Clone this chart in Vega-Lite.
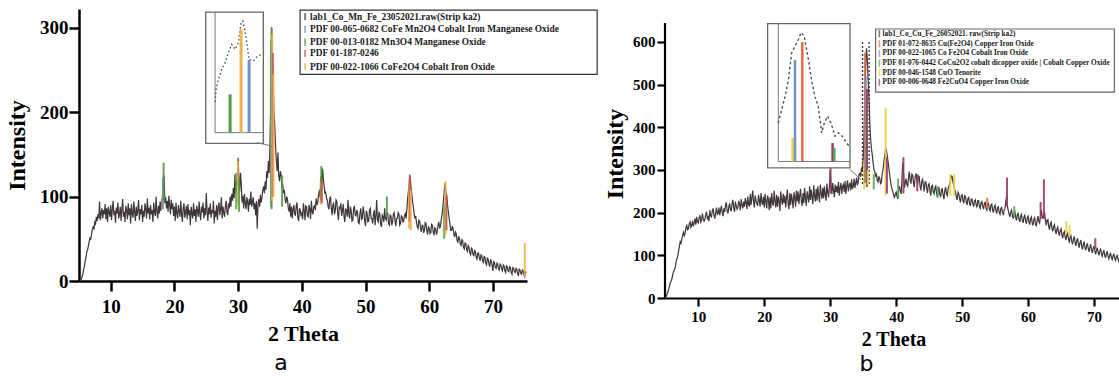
{
  "$schema": "https://vega.github.io/schema/vega-lite/v6.json",
  "background": "white",
  "padding": {"left": 5, "top": 9, "right": 0, "bottom": 0},
  "spacing": 5,
  "resolve": {"scale": {"color": "independent"}},
  "config": {
    "view": {"stroke": null},
    "axis": {
      "grid": false,
      "domainColor": "#000",
      "tickColor": "#000",
      "labelColor": "#000",
      "titleColor": "#000",
      "labelFont": "Liberation Serif",
      "titleFont": "Liberation Serif",
      "labelFontWeight": "bold",
      "titleFontWeight": "bold"
    }
  },
  "datasets": {
    "scanA": [
      {"t":5.25,"i":0},{"t":5.375,"i":2},{"t":5.5,"i":5},{"t":5.625,"i":8},{"t":5.75,"i":14},{"t":5.875,"i":18},
      {"t":6.0,"i":24},{"t":6.125,"i":28},{"t":6.25,"i":35},{"t":6.375,"i":37},{"t":6.5,"i":42},{"t":6.625,"i":47},{"t":6.75,"i":51},{"t":6.875,"i":50},
      {"t":7.0,"i":56},{"t":7.125,"i":61},{"t":7.25,"i":64},{"t":7.375,"i":62},{"t":7.5,"i":70},{"t":7.625,"i":68},{"t":7.75,"i":76},{"t":7.875,"i":71},
      {"t":8.0,"i":79},{"t":8.125,"i":74},{"t":8.25,"i":94},{"t":8.375,"i":72},{"t":8.5,"i":80},{"t":8.625,"i":86},{"t":8.75,"i":74},{"t":8.875,"i":84},
      {"t":9.0,"i":79},{"t":9.125,"i":91},{"t":9.25,"i":73},{"t":9.375,"i":86},{"t":9.5,"i":70},{"t":9.625,"i":88},{"t":9.75,"i":81},{"t":9.875,"i":76},
      {"t":10.0,"i":90},{"t":10.125,"i":72},{"t":10.25,"i":84},{"t":10.375,"i":95},{"t":10.5,"i":78},{"t":10.625,"i":83},{"t":10.75,"i":69},{"t":10.875,"i":87},
      {"t":11.0,"i":80},{"t":11.125,"i":93},{"t":11.25,"i":74},{"t":11.375,"i":79},{"t":11.5,"i":88},{"t":11.625,"i":71},{"t":11.75,"i":85},{"t":11.875,"i":97},
      {"t":12.0,"i":76},{"t":12.125,"i":82},{"t":12.25,"i":70},{"t":12.375,"i":89},{"t":12.5,"i":84},{"t":12.625,"i":73},{"t":12.75,"i":92},{"t":12.875,"i":78},
      {"t":13.0,"i":86},{"t":13.125,"i":68},{"t":13.25,"i":91},{"t":13.375,"i":80},{"t":13.5,"i":75},{"t":13.625,"i":94},{"t":13.75,"i":82},{"t":13.875,"i":71},
      {"t":14.0,"i":88},{"t":14.125,"i":77},{"t":14.25,"i":84},{"t":14.375,"i":96},{"t":14.5,"i":72},{"t":14.625,"i":85},{"t":14.75,"i":79},{"t":14.875,"i":90},
      {"t":15.0,"i":70},{"t":15.125,"i":83},{"t":15.25,"i":76},{"t":15.375,"i":92},{"t":15.5,"i":85},{"t":15.625,"i":74},{"t":15.75,"i":98},{"t":15.875,"i":80},
      {"t":16.0,"i":87},{"t":16.125,"i":73},{"t":16.25,"i":90},{"t":16.375,"i":79},{"t":16.5,"i":84},{"t":16.625,"i":70},{"t":16.75,"i":93},{"t":16.875,"i":81},
      {"t":17.0,"i":77},{"t":17.125,"i":100},{"t":17.25,"i":82},{"t":17.375,"i":74},{"t":17.5,"i":89},{"t":17.625,"i":80},{"t":17.75,"i":94},{"t":17.875,"i":83},
      {"t":18.0,"i":97},{"t":18.125,"i":88},{"t":18.25,"i":118},{"t":18.375,"i":125},{"t":18.5,"i":92},{"t":18.625,"i":99},{"t":18.75,"i":86},{"t":18.875,"i":95},
      {"t":19.0,"i":82},{"t":19.125,"i":101},{"t":19.25,"i":90},{"t":19.375,"i":79},{"t":19.5,"i":96},{"t":19.625,"i":85},{"t":19.75,"i":92},{"t":19.875,"i":77},
      {"t":20.0,"i":88},{"t":20.125,"i":71},{"t":20.25,"i":93},{"t":20.375,"i":80},{"t":20.5,"i":74},{"t":20.625,"i":90},{"t":20.75,"i":83},{"t":20.875,"i":76},
      {"t":21.0,"i":95},{"t":21.125,"i":79},{"t":21.25,"i":70},{"t":21.375,"i":86},{"t":21.5,"i":92},{"t":21.625,"i":75},{"t":21.75,"i":81},{"t":21.875,"i":89},
      {"t":22.0,"i":73},{"t":22.125,"i":91},{"t":22.25,"i":78},{"t":22.375,"i":84},{"t":22.5,"i":66},{"t":22.625,"i":88},{"t":22.75,"i":80},{"t":22.875,"i":74},
      {"t":23.0,"i":92},{"t":23.125,"i":77},{"t":23.25,"i":85},{"t":23.375,"i":70},{"t":23.5,"i":89},{"t":23.625,"i":83},{"t":23.75,"i":76},{"t":23.875,"i":94},
      {"t":24.0,"i":79},{"t":24.125,"i":72},{"t":24.25,"i":88},{"t":24.375,"i":81},{"t":24.5,"i":93},{"t":24.625,"i":74},{"t":24.75,"i":86},{"t":24.875,"i":78},
      {"t":25.0,"i":104},{"t":25.125,"i":82},{"t":25.25,"i":71},{"t":25.375,"i":87},{"t":25.5,"i":79},{"t":25.625,"i":92},{"t":25.75,"i":75},{"t":25.875,"i":84},
      {"t":26.0,"i":80},{"t":26.125,"i":95},{"t":26.25,"i":68},{"t":26.375,"i":83},{"t":26.5,"i":76},{"t":26.625,"i":90},{"t":26.75,"i":72},{"t":26.875,"i":87},
      {"t":27.0,"i":93},{"t":27.125,"i":78},{"t":27.25,"i":85},{"t":27.375,"i":99},{"t":27.5,"i":74},{"t":27.625,"i":88},{"t":27.75,"i":81},{"t":27.875,"i":76},
      {"t":28.0,"i":89},{"t":28.125,"i":95},{"t":28.25,"i":82},{"t":28.375,"i":78},{"t":28.5,"i":92},{"t":28.625,"i":86},{"t":28.75,"i":100},{"t":28.875,"i":88},
      {"t":29.0,"i":103},{"t":29.125,"i":95},{"t":29.25,"i":110},{"t":29.375,"i":98},{"t":29.5,"i":126},{"t":29.625,"i":104},{"t":29.75,"i":118},{"t":29.875,"i":112},
      {"t":30.0,"i":146},{"t":30.125,"i":120},{"t":30.25,"i":106},{"t":30.375,"i":128},{"t":30.5,"i":115},{"t":30.625,"i":93},{"t":30.75,"i":101},{"t":30.875,"i":86},
      {"t":31.0,"i":103},{"t":31.125,"i":92},{"t":31.25,"i":85},{"t":31.375,"i":99},{"t":31.5,"i":94},{"t":31.625,"i":82},{"t":31.75,"i":97},{"t":31.875,"i":90},
      {"t":32.0,"i":106},{"t":32.125,"i":88},{"t":32.25,"i":94},{"t":32.375,"i":99},{"t":32.5,"i":85},{"t":32.625,"i":92},{"t":32.75,"i":78},{"t":32.875,"i":95},
      {"t":33.0,"i":62},{"t":33.125,"i":90},{"t":33.25,"i":97},{"t":33.375,"i":88},{"t":33.5,"i":102},{"t":33.625,"i":93},{"t":33.75,"i":99},{"t":33.875,"i":108},
      {"t":34.0,"i":112},{"t":34.125,"i":104},{"t":34.25,"i":118},{"t":34.375,"i":108},{"t":34.5,"i":130},{"t":34.625,"i":122},{"t":34.75,"i":142},{"t":34.875,"i":128},
      {"t":35.0,"i":162},{"t":35.125,"i":210},{"t":35.25,"i":300},{"t":35.375,"i":268},{"t":35.5,"i":236},{"t":35.625,"i":200},{"t":35.75,"i":184},{"t":35.875,"i":160},
      {"t":36.0,"i":142},{"t":36.125,"i":130},{"t":36.25,"i":152},{"t":36.375,"i":124},{"t":36.5,"i":118},{"t":36.625,"i":130},{"t":36.75,"i":126},{"t":36.875,"i":112},
      {"t":37.0,"i":114},{"t":37.125,"i":104},{"t":37.25,"i":108},{"t":37.375,"i":96},{"t":37.5,"i":92},{"t":37.625,"i":100},{"t":37.75,"i":97},{"t":37.875,"i":86},
      {"t":38.0,"i":82},{"t":38.125,"i":92},{"t":38.25,"i":76},{"t":38.375,"i":88},{"t":38.5,"i":74},{"t":38.625,"i":85},{"t":38.75,"i":90},{"t":38.875,"i":79},
      {"t":39.0,"i":78},{"t":39.125,"i":89},{"t":39.25,"i":93},{"t":39.375,"i":75},{"t":39.5,"i":71},{"t":39.625,"i":86},{"t":39.75,"i":84},{"t":39.875,"i":78},
      {"t":40.0,"i":80},{"t":40.125,"i":73},{"t":40.25,"i":92},{"t":40.375,"i":84},{"t":40.5,"i":72},{"t":40.625,"i":89},{"t":40.75,"i":88},{"t":40.875,"i":77},
      {"t":41.0,"i":76},{"t":41.125,"i":90},{"t":41.25,"i":85},{"t":41.375,"i":73},{"t":41.5,"i":95},{"t":41.625,"i":82},{"t":41.75,"i":79},{"t":41.875,"i":88},
      {"t":42.0,"i":89},{"t":42.125,"i":84},{"t":42.25,"i":98},{"t":42.375,"i":90},{"t":42.5,"i":93},{"t":42.625,"i":101},{"t":42.75,"i":108},{"t":42.875,"i":99},
      {"t":43.0,"i":124},{"t":43.125,"i":115},{"t":43.25,"i":133},{"t":43.375,"i":122},{"t":43.5,"i":112},{"t":43.625,"i":104},{"t":43.75,"i":105},{"t":43.875,"i":98},
      {"t":44.0,"i":96},{"t":44.125,"i":88},{"t":44.25,"i":85},{"t":44.375,"i":97},{"t":44.5,"i":100},{"t":44.625,"i":86},{"t":44.75,"i":78},{"t":44.875,"i":90},
      {"t":45.0,"i":92},{"t":45.125,"i":79},{"t":45.25,"i":83},{"t":45.375,"i":96},{"t":45.5,"i":94},{"t":45.625,"i":81},{"t":45.75,"i":72},{"t":45.875,"i":87},
      {"t":46.0,"i":86},{"t":46.125,"i":92},{"t":46.25,"i":77},{"t":46.375,"i":83},{"t":46.5,"i":91},{"t":46.625,"i":76},{"t":46.75,"i":70},{"t":46.875,"i":85},
      {"t":47.0,"i":84},{"t":47.125,"i":76},{"t":47.25,"i":96},{"t":47.375,"i":80},{"t":47.5,"i":74},{"t":47.625,"i":88},{"t":47.75,"i":83},{"t":47.875,"i":71},
      {"t":48.0,"i":72},{"t":48.125,"i":86},{"t":48.25,"i":89},{"t":48.375,"i":78},{"t":48.5,"i":77},{"t":48.625,"i":84},{"t":48.75,"i":81},{"t":48.875,"i":69},
      {"t":49.0,"i":68},{"t":49.125,"i":80},{"t":49.25,"i":86},{"t":49.375,"i":73},{"t":49.5,"i":74},{"t":49.625,"i":88},{"t":49.75,"i":82},{"t":49.875,"i":71},
      {"t":50.0,"i":65},{"t":50.125,"i":83},{"t":50.25,"i":80},{"t":50.375,"i":70},{"t":50.5,"i":71},{"t":50.625,"i":84},{"t":50.75,"i":86},{"t":50.875,"i":74},
      {"t":51.0,"i":74},{"t":51.125,"i":68},{"t":51.25,"i":79},{"t":51.375,"i":84},{"t":51.5,"i":66},{"t":51.625,"i":77},{"t":51.75,"i":96},{"t":51.875,"i":72},
      {"t":52.0,"i":70},{"t":52.125,"i":82},{"t":52.25,"i":79},{"t":52.375,"i":67},{"t":52.5,"i":64},{"t":52.625,"i":78},{"t":52.75,"i":76},{"t":52.875,"i":70},
      {"t":53.0,"i":86},{"t":53.125,"i":74},{"t":53.25,"i":72},{"t":53.375,"i":80},{"t":53.5,"i":80},{"t":53.625,"i":68},{"t":53.75,"i":66},{"t":53.875,"i":78},
      {"t":54.0,"i":77},{"t":54.125,"i":66},{"t":54.25,"i":70},{"t":54.375,"i":79},{"t":54.5,"i":81},{"t":54.625,"i":72},{"t":54.75,"i":65},{"t":54.875,"i":74},
      {"t":55.0,"i":74},{"t":55.125,"i":81},{"t":55.25,"i":79},{"t":55.375,"i":66},{"t":55.5,"i":68},{"t":55.625,"i":77},{"t":55.75,"i":76},{"t":55.875,"i":70},
      {"t":56.0,"i":71},{"t":56.125,"i":78},{"t":56.25,"i":80},{"t":56.375,"i":74},{"t":56.5,"i":86},{"t":56.625,"i":98},{"t":56.75,"i":108},{"t":56.875,"i":116},
      {"t":57.0,"i":124},{"t":57.125,"i":112},{"t":57.25,"i":104},{"t":57.375,"i":95},{"t":57.5,"i":88},{"t":57.625,"i":80},{"t":57.75,"i":74},{"t":57.875,"i":77},
      {"t":58.0,"i":70},{"t":58.125,"i":64},{"t":58.25,"i":62},{"t":58.375,"i":72},{"t":58.5,"i":71},{"t":58.625,"i":63},{"t":58.75,"i":58},{"t":58.875,"i":66},
      {"t":59.0,"i":66},{"t":59.125,"i":57},{"t":59.25,"i":60},{"t":59.375,"i":69},{"t":59.5,"i":68},{"t":59.625,"i":59},{"t":59.75,"i":55},{"t":59.875,"i":64},
      {"t":60.0,"i":63},{"t":60.125,"i":56},{"t":60.25,"i":57},{"t":60.375,"i":67},{"t":60.5,"i":66},{"t":60.625,"i":58},{"t":60.75,"i":54},{"t":60.875,"i":63},
      {"t":61.0,"i":62},{"t":61.125,"i":55},{"t":61.25,"i":58},{"t":61.375,"i":66},{"t":61.5,"i":70},{"t":61.625,"i":63},{"t":61.75,"i":64},{"t":61.875,"i":72},
      {"t":62.0,"i":78},{"t":62.125,"i":86},{"t":62.25,"i":96},{"t":62.375,"i":108},{"t":62.5,"i":116},{"t":62.625,"i":104},{"t":62.75,"i":102},{"t":62.875,"i":90},
      {"t":63.0,"i":82},{"t":63.125,"i":74},{"t":63.25,"i":68},{"t":63.375,"i":60},{"t":63.5,"i":60},{"t":63.625,"i":65},{"t":63.75,"i":62},{"t":63.875,"i":55},
      {"t":64.0,"i":52},{"t":64.125,"i":58},{"t":64.25,"i":56},{"t":64.375,"i":48},{"t":64.5,"i":46},{"t":64.625,"i":53},{"t":64.75,"i":50},{"t":64.875,"i":44},
      {"t":65.0,"i":42},{"t":65.125,"i":49},{"t":65.25,"i":48},{"t":65.375,"i":40},{"t":65.5,"i":38},{"t":65.625,"i":45},{"t":65.75,"i":44},{"t":65.875,"i":37},
      {"t":66.0,"i":35},{"t":66.125,"i":42},{"t":66.25,"i":40},{"t":66.375,"i":33},{"t":66.5,"i":31},{"t":66.625,"i":39},{"t":66.75,"i":38},{"t":66.875,"i":31},
      {"t":67.0,"i":30},{"t":67.125,"i":36},{"t":67.25,"i":35},{"t":67.375,"i":28},{"t":67.5,"i":26},{"t":67.625,"i":33},{"t":67.75,"i":33},{"t":67.875,"i":27},
      {"t":68.0,"i":24},{"t":68.125,"i":31},{"t":68.25,"i":30},{"t":68.375,"i":24},{"t":68.5,"i":22},{"t":68.625,"i":29},{"t":68.75,"i":28},{"t":68.875,"i":21},
      {"t":69.0,"i":19},{"t":69.125,"i":27},{"t":69.25,"i":26},{"t":69.375,"i":20},{"t":69.5,"i":17},{"t":69.625,"i":25},{"t":69.75,"i":24},{"t":69.875,"i":18},
      {"t":70.0,"i":12},{"t":70.125,"i":23},{"t":70.25,"i":22},{"t":70.375,"i":16},{"t":70.5,"i":15},{"t":70.625,"i":21},{"t":70.75,"i":20},{"t":70.875,"i":14},
      {"t":71.0,"i":13},{"t":71.125,"i":20},{"t":71.25,"i":19},{"t":71.375,"i":14},{"t":71.5,"i":12},{"t":71.625,"i":19},{"t":71.75,"i":18},{"t":71.875,"i":12},
      {"t":72.0,"i":10},{"t":72.125,"i":18},{"t":72.25,"i":17},{"t":72.375,"i":12},{"t":72.5,"i":11},{"t":72.625,"i":17},{"t":72.75,"i":16},{"t":72.875,"i":10},
      {"t":73.0,"i":8},{"t":73.125,"i":16},{"t":73.25,"i":15},{"t":73.375,"i":11},{"t":73.5,"i":10},{"t":73.625,"i":15},{"t":73.75,"i":14},{"t":73.875,"i":9},
      {"t":74.0,"i":6},{"t":74.125,"i":14},{"t":74.25,"i":13},{"t":74.375,"i":9},{"t":74.5,"i":8},{"t":74.625,"i":13},{"t":74.75,"i":12},{"t":74.875,"i":7},
      {"t":75.0,"i":5},{"t":75.125,"i":11},{"t":75.25,"i":10}
    ],
    "scanB": [
      {"t":5.0,"i":0},{"t":5.125,"i":3},{"t":5.25,"i":8},{"t":5.375,"i":14},{"t":5.5,"i":20},{"t":5.625,"i":27},{"t":5.75,"i":36},{"t":5.875,"i":40},
      {"t":6.0,"i":45},{"t":6.125,"i":55},{"t":6.25,"i":62},{"t":6.375,"i":66},{"t":6.5,"i":72},{"t":6.625,"i":84},{"t":6.75,"i":92},{"t":6.875,"i":98},
      {"t":7.0,"i":110},{"t":7.125,"i":120},{"t":7.25,"i":132},{"t":7.375,"i":128},{"t":7.5,"i":138},{"t":7.625,"i":148},{"t":7.75,"i":154},{"t":7.875,"i":146},
      {"t":8.0,"i":152},{"t":8.125,"i":165},{"t":8.25,"i":170},{"t":8.375,"i":160},{"t":8.5,"i":162},{"t":8.625,"i":174},{"t":8.75,"i":178},{"t":8.875,"i":166},
      {"t":9.0,"i":170},{"t":9.125,"i":181},{"t":9.25,"i":168},{"t":9.375,"i":176},{"t":9.5,"i":186},{"t":9.625,"i":172},{"t":9.75,"i":190},{"t":9.875,"i":178},
      {"t":10.0,"i":176},{"t":10.125,"i":188},{"t":10.25,"i":194},{"t":10.375,"i":178},{"t":10.5,"i":182},{"t":10.625,"i":198},{"t":10.75,"i":186},{"t":10.875,"i":180},
      {"t":11.0,"i":184},{"t":11.125,"i":196},{"t":11.25,"i":202},{"t":11.375,"i":186},{"t":11.5,"i":190},{"t":11.625,"i":180},{"t":11.75,"i":206},{"t":11.875,"i":192},
      {"t":12.0,"i":190},{"t":12.125,"i":204},{"t":12.25,"i":210},{"t":12.375,"i":194},{"t":12.5,"i":186},{"t":12.625,"i":200},{"t":12.75,"i":212},{"t":12.875,"i":196},
      {"t":13.0,"i":198},{"t":13.125,"i":212},{"t":13.25,"i":194},{"t":13.375,"i":206},{"t":13.5,"i":216},{"t":13.625,"i":200},{"t":13.75,"i":192},{"t":13.875,"i":210},
      {"t":14.0,"i":202},{"t":14.125,"i":218},{"t":14.25,"i":224},{"t":14.375,"i":204},{"t":14.5,"i":198},{"t":14.625,"i":214},{"t":14.75,"i":222},{"t":14.875,"i":206},
      {"t":15.0,"i":205},{"t":15.125,"i":222},{"t":15.25,"i":230},{"t":15.375,"i":210},{"t":15.5,"i":202},{"t":15.625,"i":226},{"t":15.75,"i":216},{"t":15.875,"i":208},
      {"t":16.0,"i":212},{"t":16.125,"i":228},{"t":16.25,"i":220},{"t":16.375,"i":206},{"t":16.5,"i":232},{"t":16.625,"i":218},{"t":16.75,"i":210},{"t":16.875,"i":226},
      {"t":17.0,"i":214},{"t":17.125,"i":234},{"t":17.25,"i":224},{"t":17.375,"i":208},{"t":17.5,"i":238},{"t":17.625,"i":220},{"t":17.75,"i":214},{"t":17.875,"i":244},
      {"t":18.0,"i":218},{"t":18.125,"i":236},{"t":18.25,"i":252},{"t":18.375,"i":226},{"t":18.5,"i":212},{"t":18.625,"i":240},{"t":18.75,"i":228},{"t":18.875,"i":222},
      {"t":19.0,"i":216},{"t":19.125,"i":242},{"t":19.25,"i":230},{"t":19.375,"i":214},{"t":19.5,"i":246},{"t":19.625,"i":226},{"t":19.75,"i":218},{"t":19.875,"i":238},
      {"t":20.0,"i":212},{"t":20.125,"i":244},{"t":20.25,"i":226},{"t":20.375,"i":210},{"t":20.5,"i":240},{"t":20.625,"i":232},{"t":20.75,"i":206},{"t":20.875,"i":236},
      {"t":21.0,"i":210},{"t":21.125,"i":246},{"t":21.25,"i":222},{"t":21.375,"i":216},{"t":21.5,"i":252},{"t":21.625,"i":228},{"t":21.75,"i":212},{"t":21.875,"i":242},
      {"t":22.0,"i":214},{"t":22.125,"i":238},{"t":22.25,"i":226},{"t":22.375,"i":204},{"t":22.5,"i":250},{"t":22.625,"i":230},{"t":22.75,"i":218},{"t":22.875,"i":244},
      {"t":23.0,"i":222},{"t":23.125,"i":240},{"t":23.25,"i":212},{"t":23.375,"i":234},{"t":23.5,"i":254},{"t":23.625,"i":220},{"t":23.75,"i":208},{"t":23.875,"i":246},
      {"t":24.0,"i":218},{"t":24.125,"i":244},{"t":24.25,"i":230},{"t":24.375,"i":210},{"t":24.5,"i":248},{"t":24.625,"i":236},{"t":24.75,"i":214},{"t":24.875,"i":252},
      {"t":25.0,"i":226},{"t":25.125,"i":250},{"t":25.25,"i":220},{"t":25.375,"i":240},{"t":25.5,"i":256},{"t":25.625,"i":226},{"t":25.75,"i":216},{"t":25.875,"i":246},
      {"t":26.0,"i":222},{"t":26.125,"i":258},{"t":26.25,"i":234},{"t":26.375,"i":216},{"t":26.5,"i":250},{"t":26.625,"i":238},{"t":26.75,"i":224},{"t":26.875,"i":262},
      {"t":27.0,"i":230},{"t":27.125,"i":254},{"t":27.25,"i":236},{"t":27.375,"i":220},{"t":27.5,"i":264},{"t":27.625,"i":240},{"t":27.75,"i":226},{"t":27.875,"i":256},
      {"t":28.0,"i":228},{"t":28.125,"i":262},{"t":28.25,"i":240},{"t":28.375,"i":224},{"t":28.5,"i":266},{"t":28.625,"i":246},{"t":28.75,"i":232},{"t":28.875,"i":258},
      {"t":29.0,"i":234},{"t":29.125,"i":262},{"t":29.25,"i":242},{"t":29.375,"i":228},{"t":29.5,"i":268},{"t":29.625,"i":248},{"t":29.75,"i":236},{"t":29.875,"i":262},
      {"t":30.0,"i":300},{"t":30.125,"i":262},{"t":30.25,"i":244},{"t":30.375,"i":270},{"t":30.5,"i":252},{"t":30.625,"i":236},{"t":30.75,"i":266},{"t":30.875,"i":248},
      {"t":31.0,"i":262},{"t":31.125,"i":246},{"t":31.25,"i":272},{"t":31.375,"i":240},{"t":31.5,"i":258},{"t":31.625,"i":270},{"t":31.75,"i":244},{"t":31.875,"i":262},
      {"t":32.0,"i":266},{"t":32.125,"i":248},{"t":32.25,"i":274},{"t":32.375,"i":244},{"t":32.5,"i":262},{"t":32.625,"i":276},{"t":32.75,"i":250},{"t":32.875,"i":264},
      {"t":33.0,"i":270},{"t":33.125,"i":252},{"t":33.25,"i":278},{"t":33.375,"i":256},{"t":33.5,"i":262},{"t":33.625,"i":280},{"t":33.75,"i":258},{"t":33.875,"i":270},
      {"t":34.0,"i":282},{"t":34.125,"i":264},{"t":34.25,"i":272},{"t":34.375,"i":290},{"t":34.5,"i":292},{"t":34.625,"i":284},{"t":34.75,"i":306},{"t":34.875,"i":298},
      {"t":35.0,"i":330},{"t":35.125,"i":380},{"t":35.25,"i":470},{"t":35.375,"i":540},{"t":35.5,"i":585},{"t":35.625,"i":560},{"t":35.75,"i":510},{"t":35.875,"i":470},
      {"t":36.0,"i":410},{"t":36.125,"i":372},{"t":36.25,"i":350},{"t":36.375,"i":336},{"t":36.5,"i":318},{"t":36.625,"i":302},{"t":36.75,"i":296},{"t":36.875,"i":286},
      {"t":37.0,"i":290},{"t":37.125,"i":276},{"t":37.25,"i":272},{"t":37.375,"i":284},{"t":37.5,"i":282},{"t":37.625,"i":268},{"t":37.75,"i":270},{"t":37.875,"i":290},
      {"t":38.0,"i":300},{"t":38.125,"i":318},{"t":38.25,"i":332},{"t":38.375,"i":345},{"t":38.5,"i":348},{"t":38.625,"i":336},{"t":38.75,"i":322},{"t":38.875,"i":306},
      {"t":39.0,"i":290},{"t":39.125,"i":276},{"t":39.25,"i":262},{"t":39.375,"i":254},{"t":39.5,"i":250},{"t":39.625,"i":240},{"t":39.75,"i":236},{"t":39.875,"i":244},
      {"t":40.0,"i":248},{"t":40.125,"i":238},{"t":40.25,"i":232},{"t":40.375,"i":256},{"t":40.5,"i":262},{"t":40.625,"i":250},{"t":40.75,"i":244},{"t":40.875,"i":276},
      {"t":41.0,"i":318},{"t":41.125,"i":290},{"t":41.25,"i":258},{"t":41.375,"i":270},{"t":41.5,"i":280},{"t":41.625,"i":266},{"t":41.75,"i":262},{"t":41.875,"i":282},
      {"t":42.0,"i":296},{"t":42.125,"i":276},{"t":42.25,"i":268},{"t":42.375,"i":290},{"t":42.5,"i":288},{"t":42.625,"i":270},{"t":42.75,"i":260},{"t":42.875,"i":284},
      {"t":43.0,"i":292},{"t":43.125,"i":278},{"t":43.25,"i":266},{"t":43.375,"i":286},{"t":43.5,"i":284},{"t":43.625,"i":262},{"t":43.75,"i":252},{"t":43.875,"i":274},
      {"t":44.0,"i":278},{"t":44.125,"i":264},{"t":44.25,"i":250},{"t":44.375,"i":272},{"t":44.5,"i":272},{"t":44.625,"i":256},{"t":44.75,"i":246},{"t":44.875,"i":266},
      {"t":45.0,"i":268},{"t":45.125,"i":250},{"t":45.25,"i":240},{"t":45.375,"i":262},{"t":45.5,"i":264},{"t":45.625,"i":248},{"t":45.75,"i":244},{"t":45.875,"i":258},
      {"t":46.0,"i":262},{"t":46.125,"i":246},{"t":46.25,"i":236},{"t":46.375,"i":256},{"t":46.5,"i":258},{"t":46.625,"i":242},{"t":46.75,"i":238},{"t":46.875,"i":254},
      {"t":47.0,"i":256},{"t":47.125,"i":240},{"t":47.25,"i":232},{"t":47.375,"i":252},{"t":47.5,"i":260},{"t":47.625,"i":244},{"t":47.75,"i":240},{"t":47.875,"i":256},
      {"t":48.0,"i":262},{"t":48.125,"i":268},{"t":48.25,"i":276},{"t":48.375,"i":286},{"t":48.5,"i":284},{"t":48.625,"i":270},{"t":48.75,"i":262},{"t":48.875,"i":254},
      {"t":49.0,"i":248},{"t":49.125,"i":236},{"t":49.25,"i":230},{"t":49.375,"i":248},{"t":49.5,"i":244},{"t":49.625,"i":232},{"t":49.75,"i":224},{"t":49.875,"i":240},
      {"t":50.0,"i":242},{"t":50.125,"i":228},{"t":50.25,"i":222},{"t":50.375,"i":240},{"t":50.5,"i":238},{"t":50.625,"i":224},{"t":50.75,"i":218},{"t":50.875,"i":234},
      {"t":51.0,"i":236},{"t":51.125,"i":222},{"t":51.25,"i":216},{"t":51.375,"i":232},{"t":51.5,"i":232},{"t":51.625,"i":220},{"t":51.75,"i":214},{"t":51.875,"i":228},
      {"t":52.0,"i":230},{"t":52.125,"i":218},{"t":52.25,"i":212},{"t":52.375,"i":228},{"t":52.5,"i":228},{"t":52.625,"i":214},{"t":52.75,"i":210},{"t":52.875,"i":224},
      {"t":53.0,"i":226},{"t":53.125,"i":214},{"t":53.25,"i":208},{"t":53.375,"i":222},{"t":53.5,"i":224},{"t":53.625,"i":210},{"t":53.75,"i":206},{"t":53.875,"i":220},
      {"t":54.0,"i":222},{"t":54.125,"i":208},{"t":54.25,"i":204},{"t":54.375,"i":218},{"t":54.5,"i":220},{"t":54.625,"i":206},{"t":54.75,"i":200},{"t":54.875,"i":214},
      {"t":55.0,"i":218},{"t":55.125,"i":204},{"t":55.25,"i":198},{"t":55.375,"i":212},{"t":55.5,"i":214},{"t":55.625,"i":200},{"t":55.75,"i":196},{"t":55.875,"i":210},
      {"t":56.0,"i":212},{"t":56.125,"i":200},{"t":56.25,"i":194},{"t":56.375,"i":206},{"t":56.5,"i":210},{"t":56.625,"i":226},{"t":56.75,"i":240},{"t":56.875,"i":214},
      {"t":57.0,"i":205},{"t":57.125,"i":196},{"t":57.25,"i":190},{"t":57.375,"i":202},{"t":57.5,"i":206},{"t":57.625,"i":192},{"t":57.75,"i":186},{"t":57.875,"i":198},
      {"t":58.0,"i":202},{"t":58.125,"i":188},{"t":58.25,"i":182},{"t":58.375,"i":196},{"t":58.5,"i":198},{"t":58.625,"i":184},{"t":58.75,"i":178},{"t":58.875,"i":192},
      {"t":59.0,"i":196},{"t":59.125,"i":182},{"t":59.25,"i":176},{"t":59.375,"i":190},{"t":59.5,"i":194},{"t":59.625,"i":180},{"t":59.75,"i":174},{"t":59.875,"i":188},
      {"t":60.0,"i":192},{"t":60.125,"i":178},{"t":60.25,"i":172},{"t":60.375,"i":186},{"t":60.5,"i":190},{"t":60.625,"i":176},{"t":60.75,"i":170},{"t":60.875,"i":184},
      {"t":61.0,"i":188},{"t":61.125,"i":174},{"t":61.25,"i":168},{"t":61.375,"i":182},{"t":61.5,"i":192},{"t":61.625,"i":180},{"t":61.75,"i":176},{"t":61.875,"i":190},
      {"t":62.0,"i":206},{"t":62.125,"i":192},{"t":62.25,"i":186},{"t":62.375,"i":198},{"t":62.5,"i":200},{"t":62.625,"i":184},{"t":62.75,"i":170},{"t":62.875,"i":182},
      {"t":63.0,"i":184},{"t":63.125,"i":168},{"t":63.25,"i":160},{"t":63.375,"i":174},{"t":63.5,"i":178},{"t":63.625,"i":162},{"t":63.75,"i":156},{"t":63.875,"i":168},
      {"t":64.0,"i":172},{"t":64.125,"i":158},{"t":64.25,"i":150},{"t":64.375,"i":162},{"t":64.5,"i":166},{"t":64.625,"i":152},{"t":64.75,"i":146},{"t":64.875,"i":158},
      {"t":65.0,"i":162},{"t":65.125,"i":148},{"t":65.25,"i":140},{"t":65.375,"i":152},{"t":65.5,"i":156},{"t":65.625,"i":142},{"t":65.75,"i":136},{"t":65.875,"i":148},
      {"t":66.0,"i":152},{"t":66.125,"i":138},{"t":66.25,"i":130},{"t":66.375,"i":142},{"t":66.5,"i":146},{"t":66.625,"i":132},{"t":66.75,"i":126},{"t":66.875,"i":138},
      {"t":67.0,"i":144},{"t":67.125,"i":130},{"t":67.25,"i":122},{"t":67.375,"i":134},{"t":67.5,"i":140},{"t":67.625,"i":126},{"t":67.75,"i":118},{"t":67.875,"i":130},
      {"t":68.0,"i":136},{"t":68.125,"i":122},{"t":68.25,"i":114},{"t":68.375,"i":126},{"t":68.5,"i":132},{"t":68.625,"i":118},{"t":68.75,"i":112},{"t":68.875,"i":122},
      {"t":69.0,"i":128},{"t":69.125,"i":116},{"t":69.25,"i":108},{"t":69.375,"i":118},{"t":69.5,"i":126},{"t":69.625,"i":112},{"t":69.75,"i":106},{"t":69.875,"i":116},
      {"t":70.0,"i":122},{"t":70.125,"i":110},{"t":70.25,"i":102},{"t":70.375,"i":112},{"t":70.5,"i":118},{"t":70.625,"i":106},{"t":70.75,"i":100},{"t":70.875,"i":110},
      {"t":71.0,"i":116},{"t":71.125,"i":104},{"t":71.25,"i":98},{"t":71.375,"i":106},{"t":71.5,"i":112},{"t":71.625,"i":100},{"t":71.75,"i":94},{"t":71.875,"i":104},
      {"t":72.0,"i":110},{"t":72.125,"i":98},{"t":72.25,"i":92},{"t":72.375,"i":100},{"t":72.5,"i":106},{"t":72.625,"i":96},{"t":72.75,"i":90},{"t":72.875,"i":98},
      {"t":73.0,"i":104},{"t":73.125,"i":94},{"t":73.25,"i":88},{"t":73.375,"i":96},{"t":73.5,"i":100},{"t":73.625,"i":92},{"t":73.75,"i":86},{"t":73.875,"i":95},
      {"t":74.0,"i":98},{"t":74.125,"i":90},{"t":74.25,"i":84}
    ],
    "sticksA": [
      {"t":18.1,"i":102,"i2":85,"c":"00-022-1066"},{"t":18.2,"i":122,"i2":85,"c":"00-065-0682"},{"t":18.3,"i":140,"i2":95,"c":"00-013-0182"},
      {"t":29.7,"i":128,"i2":85,"c":"00-013-0182"},{"t":29.95,"i":142,"i2":90,"c":"00-022-1066"},{"t":30.15,"i":120,"i2":82,"c":"00-013-0182"},
      {"t":35.15,"i":285,"i2":88,"c":"00-065-0682"},{"t":35.25,"i":300,"i2":85,"c":"00-013-0182"},{"t":35.35,"i":292,"i2":95,"c":"00-022-1066"},{"t":35.45,"i":270,"i2":100,"c":"01-187-0246"},{"t":35.55,"i":245,"i2":100,"c":"00-022-1066"},
      {"t":36.9,"i":125,"i2":88,"c":"00-013-0182"},
      {"t":42.95,"i":118,"i2":90,"c":"00-022-1066"},{"t":43.05,"i":136,"i2":95,"c":"00-013-0182"},{"t":43.15,"i":120,"i2":92,"c":"01-187-0246"},
      {"t":53.35,"i":100,"i2":75,"c":"00-013-0182"},
      {"t":56.85,"i":120,"i2":62,"c":"00-022-1066"},{"t":56.95,"i":126,"i2":70,"c":"01-187-0246"},{"t":57.1,"i":108,"i2":60,"c":"00-022-1066"},
      {"t":62.35,"i":92,"i2":50,"c":"00-013-0182"},{"t":62.55,"i":118,"i2":55,"c":"00-022-1066"},{"t":62.7,"i":100,"i2":60,"c":"01-187-0246"},
      {"t":75.0,"i":45,"i2":5,"c":"00-022-1066"}
    ],
    "sticksB": [
      {"t":30.05,"i":305,"i2":245,"c":"00-006-0648"},
      {"t":35.15,"i":320,"i2":255,"c":"00-046-1548"},{"t":35.25,"i":575,"i2":270,"c":"01-072-8635"},{"t":35.4,"i":520,"i2":270,"c":"00-022-1065"},{"t":35.5,"i":440,"i2":270,"c":"01-076-0442"},{"t":35.58,"i":490,"i2":260,"c":"00-006-0648"},{"t":35.7,"i":300,"i2":265,"c":"00-046-1548"},
      {"t":36.6,"i":290,"i2":255,"c":"01-076-0442"},
      {"t":38.4,"i":445,"i2":240,"c":"00-046-1548"},{"t":38.6,"i":330,"i2":245,"c":"00-006-0648"},
      {"t":40.3,"i":280,"i2":235,"c":"01-076-0442"},{"t":41.1,"i":330,"i2":245,"c":"00-006-0648"},{"t":43.2,"i":290,"i2":250,"c":"00-006-0648"},
      {"t":46.3,"i":262,"i2":235,"c":"01-076-0442"},{"t":48.2,"i":290,"i2":240,"c":"00-046-1548"},{"t":48.8,"i":290,"i2":240,"c":"00-046-1548"},
      {"t":53.8,"i":235,"i2":210,"c":"01-072-8635"},{"t":56.8,"i":282,"i2":215,"c":"00-006-0648"},{"t":57.9,"i":215,"i2":190,"c":"01-076-0442"},
      {"t":61.9,"i":225,"i2":185,"c":"00-006-0648"},{"t":62.4,"i":278,"i2":185,"c":"00-006-0648"},
      {"t":65.8,"i":180,"i2":150,"c":"00-046-1548"},{"t":66.3,"i":170,"i2":145,"c":"00-046-1548"},{"t":70.2,"i":140,"i2":115,"c":"00-006-0648"}
    ],
    "insetCurveA": [
      {"t":26.4,"i":212},{"t":26.54,"i":226.9},{"t":26.9,"i":238.7},{"t":27.43,"i":250.5},{"t":27.95,"i":258.5},{"t":28.47,"i":270.3},{"t":29.0,"i":280.1},{"t":29.52,"i":274.2},{"t":30.04,"i":282.1},{"t":30.46,"i":305.8},{"t":30.73,"i":307.7},{"t":31.09,"i":295.9},{"t":31.36,"i":282.1},{"t":31.72,"i":262.4},{"t":32.4,"i":260.4},{"t":33.02,"i":266.3},{"t":33.72,"i":268.3}
    ],
    "insetCurveB": [
      {"t":22.13,"i":410},{"t":22.63,"i":441},{"t":23.15,"i":472},{"t":23.65,"i":510},{"t":24.15,"i":574},{"t":24.66,"i":590},{"t":25.16,"i":605},{"t":25.57,"i":622},{"t":26.07,"i":613},{"t":26.42,"i":582},{"t":26.78,"i":551},{"t":27.18,"i":510},{"t":27.69,"i":472},{"t":28.19,"i":449},{"t":28.7,"i":387},{"t":29.1,"i":410},{"t":29.6,"i":426},{"t":30.12,"i":410},{"t":30.73,"i":379},{"t":31.23,"i":387},{"t":31.84,"i":379},{"t":32.33,"i":367},{"t":32.9,"i":355}
    ],
    "insetBarsA": [
      {"t":28.74,"i":221,"i2":175.6,"c":"00-013-0182"},{"t":30.46,"i":298,"i2":175.6,"c":"00-022-1066"},{"t":31.72,"i":262,"i2":175.6,"c":"00-065-0682"}
    ],
    "insetBarsB": [
      {"t":24.3,"i":375,"i2":320,"c":"00-046-1548"},{"t":24.66,"i":558,"i2":320,"c":"00-022-1065"},{"t":25.77,"i":600,"i2":320,"c":"01-072-8635"},{"t":30.36,"i":363,"i2":320,"c":"00-006-0648"},{"t":30.62,"i":352,"i2":320,"c":"01-076-0442"}
    ],
    "legendA": [
      {"t":41.3,"tm":40.52,"i":312.9,"c":"raw","label":"lab1_Co_Mn_Fe_23052021.raw(Strip ka2)"},
      {"t":41.3,"tm":40.52,"i":297.9,"c":"00-065-0682","label":"PDF 00-065-0682 CoFe Mn2O4 Cobalt Iron Manganese Oxide"},
      {"t":41.3,"tm":40.52,"i":282.8,"c":"00-013-0182","label":"PDF 00-013-0182 Mn3O4 Manganese Oxide"},
      {"t":41.3,"tm":40.52,"i":269.5,"c":"01-187-0246","label":"PDF 01-187-0246"},
      {"t":41.3,"tm":40.52,"i":253.7,"c":"00-022-1066","label":"PDF 00-022-1066 CoFe2O4 Cobalt Iron Oxide"}
    ],
    "legendB": [
      {"t":37.94,"tm":37.45,"i":619.4,"c":"raw","label":"lab1_Co_Cu_Fe_26052021. raw(Strip ka2)"},
      {"t":37.94,"tm":37.45,"i":596,"c":"01-072-8635","label":"PDF 01-072-8635 Cu(Fe2O4) Copper Iron Oxide"},
      {"t":37.94,"tm":37.45,"i":573.2,"c":"00-022-1065","label":"PDF 00-022-1065 Co Fe2O4 Cobalt Iron Oxide"},
      {"t":37.94,"tm":37.45,"i":550.7,"c":"01-076-0442","label":"PDF 01-076-0442 CoCu2O2 cobalt dicopper oxide | Cobalt Copper Oxide"},
      {"t":37.94,"tm":37.45,"i":528,"c":"00-046-1548","label":"PDF 00-046-1548 CuO Tenorite"},
      {"t":37.94,"tm":37.45,"i":505.3,"c":"00-006-0648","label":"PDF 00-006-0648 Fe2CuO4 Copper Iron Oxide"}
    ]
  },
  "hconcat": [
    {
      "width": 448,
      "height": 272,
      "title": {"text": "a", "orient": "bottom", "font": "DejaVu Sans", "fontSize": 22, "fontWeight": "normal", "color": "#000", "frame": "group", "anchor": "middle", "dx": -22, "offset": 9},
      "encoding": {
        "x": {"field": "t", "type": "quantitative", "scale": {"domain": [5.02, 75.35], "nice": false, "zero": false},
              "axis": {"title": "2 Theta", "values": [10, 20, 30, 40, 50, 60, 70], "tickSize": 10, "tickWidth": 2.5, "domainWidth": 2.5, "labelFontSize": 19, "labelPadding": 6, "titleFontSize": 22, "titlePadding": 7}},
        "y": {"field": "i", "type": "quantitative", "scale": {"domain": [0, 322], "nice": false, "zero": false},
              "axis": {"title": "Intensity", "values": [0, 100, 200, 300], "tickSize": 10, "tickWidth": 2.5, "domainWidth": 2.5, "labelFontSize": 19, "labelPadding": 1, "titleFontSize": 24, "titlePadding": 10}}
      },
      "layer": [
        {"data": {"name": "scanA"}, "mark": {"type": "line", "color": "#40363b", "strokeWidth": 1.2, "clip": true}},
        {"data": {"name": "sticksA"}, "mark": {"type": "rule", "strokeWidth": 2, "opacity": 0.9},
         "encoding": {"y2": {"field": "i2"},
                      "color": {"field": "c", "type": "nominal", "legend": null,
                                "scale": {"domain": ["raw", "00-065-0682", "00-013-0182", "01-187-0246", "00-022-1066"], "range": ["#4a4046", "#6e93c6", "#4f9e45", "#c8574f", "#f2b04e"]}}}},
        {"data": {"values": [{"t": 24.92, "t2": 33.96, "i": 163, "i2": 318.3}]},
         "mark": {"type": "rect", "fill": "white", "stroke": "#666", "strokeWidth": 1.3},
         "encoding": {"x2": {"field": "t2"}, "y2": {"field": "i2"}}},
        {"data": {"values": [{"t": 26.38, "t2": 26.38, "i": 175.6, "i2": 318.3}, {"t": 26.38, "t2": 33.96, "i": 175.6, "i2": 175.6}, {"t": 32.93, "t2": 35.3, "i": 163.8, "i2": 159.8}]},
         "mark": {"type": "rule", "color": "#777", "strokeWidth": 1},
         "encoding": {"x2": {"field": "t2"}, "y2": {"field": "i2"}}},
        {"data": {"name": "insetCurveA"}, "mark": {"type": "line", "color": "#444", "strokeWidth": 1.3, "strokeDash": [1.5, 2.5]}},
        {"data": {"name": "insetBarsA"}, "mark": {"type": "rule", "strokeWidth": 3},
         "encoding": {"y2": {"field": "i2"}, "color": {"field": "c", "type": "nominal", "legend": null}}},
        {"data": {"values": [{"t": 39.73, "t2": 86.37, "i": 244.6, "i2": 320.7}]},
         "mark": {"type": "rect", "fill": "white", "stroke": "#333", "strokeWidth": 1.2, "clip": false},
         "encoding": {"x2": {"field": "t2"}, "y2": {"field": "i2"}}},
        {"data": {"name": "legendA"}, "mark": {"type": "tick", "orient": "vertical", "size": 7, "thickness": 2, "clip": false},
         "encoding": {"x": {"field": "tm", "type": "quantitative"}, "color": {"field": "c", "type": "nominal", "legend": null}}},
        {"data": {"name": "legendA"}, "mark": {"type": "text", "align": "left", "baseline": "middle", "font": "Liberation Serif", "fontWeight": "bold", "fontSize": 9.4, "color": "#1a1a1a", "clip": false},
         "encoding": {"text": {"field": "label"}}}
      ]
    },
    {
      "width": 457,
      "height": 289,
      "title": {"text": "b", "orient": "bottom", "font": "DejaVu Sans", "fontSize": 22, "fontWeight": "normal", "color": "#000", "frame": "group", "anchor": "middle", "dx": -27, "offset": 5},
      "encoding": {
        "x": {"field": "t", "type": "quantitative", "scale": {"domain": [4.95, 74.24], "nice": false, "zero": false},
              "axis": {"title": "2 Theta", "values": [10, 20, 30, 40, 50, 60, 70], "tickSize": 8, "tickWidth": 2.2, "domainWidth": 2.2, "labelFontSize": 15, "labelPadding": 3, "titleFontSize": 20, "titlePadding": 5}},
        "y": {"field": "i", "type": "quantitative", "scale": {"domain": [0, 677.3], "nice": false, "zero": false},
              "axis": {"title": "Intensity", "values": [0, 100, 200, 300, 400, 500, 600], "domain": false, "tickSize": 8, "tickWidth": 2.2, "labelFontSize": 15, "labelPadding": 2, "titleFontSize": 24, "titlePadding": 5}}
      },
      "layer": [
        {"data": {"values": [{"t": 4.95, "i": 0, "i2": 644.5}]}, "mark": {"type": "rule", "color": "#000", "strokeWidth": 2.2},
         "encoding": {"y2": {"field": "i2"}}},
        {"data": {"name": "scanB"}, "mark": {"type": "line", "color": "#40363b", "strokeWidth": 1.2, "clip": true}},
        {"data": {"values": [{"t": 34.9, "i": 600, "i2": 265}, {"t": 35.9, "i": 600, "i2": 265}]},
         "mark": {"type": "rule", "color": "#333", "strokeWidth": 1.3, "strokeDash": [2, 2]},
         "encoding": {"y2": {"field": "i2"}}},
        {"data": {"name": "sticksB"}, "mark": {"type": "rule", "strokeWidth": 2, "opacity": 0.9},
         "encoding": {"y2": {"field": "i2"},
                      "color": {"field": "c", "type": "nominal", "legend": null,
                                "scale": {"domain": ["raw", "01-072-8635", "00-022-1065", "01-076-0442", "00-046-1548", "00-006-0648"], "range": ["#4a4046", "#ec6a3e", "#6e93c6", "#56a85a", "#e8d23a", "#9c3a68"]}}}},
        {"data": {"values": [{"t": 20.51, "t2": 33.0, "i": 305, "i2": 642.8}]},
         "mark": {"type": "rect", "fill": "white", "stroke": "#666", "strokeWidth": 1.3},
         "encoding": {"x2": {"field": "t2"}, "y2": {"field": "i2"}}},
        {"data": {"values": [{"t": 22.13, "t2": 22.13, "i": 320, "i2": 642.8}, {"t": 22.13, "t2": 33.0, "i": 320, "i2": 320}, {"t": 33.0, "t2": 34.67, "i": 301, "i2": 277}]},
         "mark": {"type": "rule", "color": "#777", "strokeWidth": 1},
         "encoding": {"x2": {"field": "t2"}, "y2": {"field": "i2"}}},
        {"data": {"name": "insetCurveB"}, "mark": {"type": "line", "color": "#444", "strokeWidth": 1.3, "strokeDash": [2.5, 2.5]}},
        {"data": {"name": "insetBarsB"}, "mark": {"type": "rule", "strokeWidth": 2.5},
         "encoding": {"y2": {"field": "i2"}, "color": {"field": "c", "type": "nominal", "legend": null}}},
        {"data": {"values": [{"t": 36.88, "t2": 73.08, "i": 482.4, "i2": 630.4}]},
         "mark": {"type": "rect", "fill": "white", "stroke": "#666", "strokeWidth": 1.2},
         "encoding": {"x2": {"field": "t2"}, "y2": {"field": "i2"}}},
        {"data": {"name": "legendB"}, "mark": {"type": "tick", "orient": "vertical", "size": 7, "thickness": 1.6},
         "encoding": {"x": {"field": "tm", "type": "quantitative"}, "color": {"field": "c", "type": "nominal", "legend": null}}},
        {"data": {"name": "legendB"}, "mark": {"type": "text", "align": "left", "baseline": "middle", "font": "Liberation Serif", "fontWeight": "bold", "fontSize": 7.3, "color": "#1a1a1a"},
         "encoding": {"text": {"field": "label"}}}
      ]
    }
  ]
}
